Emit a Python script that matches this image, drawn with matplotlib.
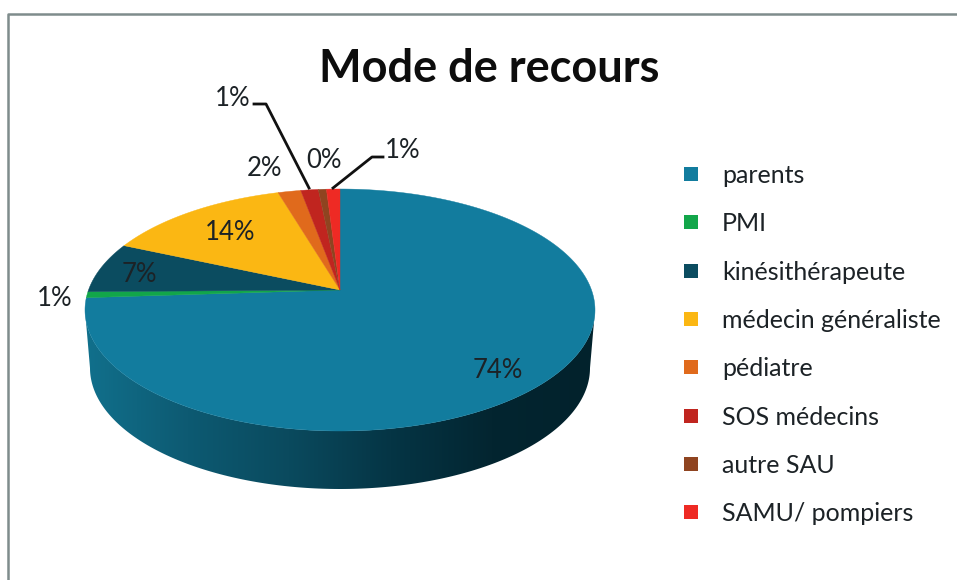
import numpy as np
import matplotlib
matplotlib.use('Agg')
import matplotlib.pyplot as plt
from matplotlib.colors import LinearSegmentedColormap

plt.rcParams['font.family'] = ['Lato', 'DejaVu Sans']

categories = ['parents', 'PMI', 'kinésithérapeute', 'médecin généraliste',
              'pédiatre', 'SOS médecins', 'autre SAU', 'SAMU/ pompiers']
shares = [73.9, 0.8, 6.8, 13.8, 1.7, 1.3, 0.6, 1.0]
share_labels = ['74%', '1%', '7%', '14%', '2%', '1%', '0%', '1%']
colors = ['#127c9e', '#12a64a', '#0b4c60', '#fbb713',
          '#e06a1c', '#c0251f', '#8f4420', '#ee2a24']
side_colors = ['#11708c', '#0d5a72', '#0a4a5e', '#053545', '#032530', '#02222c']

# label centres and leader lines, in pixels
label_pos = [(498, 370), (55, 299), (139, 274), (230, 232),
             (264, 168), (233, 98), (324, 161), (403, 151)]
leaders = {5: [(254, 104), (266, 104), (309, 188)],
           7: [(333, 188), (372, 157), (383, 157)]}

# pie geometry
cx, cy = 340, 310
rx, ry = 255, 121
apex_y = 290
depth = 58
a = (cy - apex_y) / ry


def to_screen(angle):
    # circle seen in perspective: the centre lands above the ellipse centre
    x, y = np.sin(angle), np.cos(angle)
    d = 1 + a * y
    return cx + rx * x * np.sqrt(1 - a**2) / d, cy - ry * (y + a) / d


fig = plt.figure(figsize=(9.57, 5.8), dpi=100)
ax = fig.add_axes([0, 0, 1, 1])

# side wall with its gradient
cmap = LinearSegmentedColormap.from_list('side', side_colors)
grad = np.linspace(0, 1, 256).reshape(1, -1)
img = ax.imshow(grad, cmap=cmap, extent=[85, 595, 490, 300], aspect='auto', zorder=1)
t = np.linspace(np.pi, 0, 200)
top_x, top_y = cx + rx * np.cos(t), cy + ry * np.sin(t)
bot_x, bot_y = cx + (rx - 5) * np.cos(t[::-1]), cy + depth + ry * np.sin(t[::-1])
clip = plt.Polygon(np.column_stack([np.r_[top_x, bot_x], np.r_[top_y, bot_y]]),
                   transform=ax.transData, fill=False, edgecolor='none')
ax.add_patch(clip)
img.set_clip_path(clip)

# top face, clockwise from 12 o'clock
edges = np.cumsum([0] + shares) / sum(shares) * 2 * np.pi
for i in range(len(shares)):
    ang = np.linspace(edges[i], edges[i + 1], 300)
    xs, ys = to_screen(ang)
    ax.fill(np.r_[cx, xs], np.r_[apex_y, ys], color=colors[i], lw=0.3, zorder=2)

for i, lab in enumerate(share_labels):
    ax.text(label_pos[i][0], label_pos[i][1], lab, fontsize=18.5, color='#1c2226',
            ha='center', va='center', zorder=4)
for pts in leaders.values():
    ax.plot(*zip(*pts), color='#111111', lw=2, zorder=3)

ax.text(489, 69, 'Mode de recours', fontsize=32.5, fontweight='bold', color='#0d0d0d',
        ha='center', va='center')

# legend
legend_y = [174, 222, 271, 319, 367, 416, 464, 512]
for y, name, c in zip(legend_y, categories, colors):
    ax.plot([691], [y], marker='s', ms=10.5, color=c, mew=0)
    ax.text(722, y + 1.5, name, fontsize=18, color='#1c2226', va='center', ha='left')

# frame, only top and left are visible
ax.plot([8, 8, 957], [580, 13.5, 13.5], color='#7f8c8c', lw=1.8)

ax.set_xlim(0, 957)
ax.set_ylim(580, 0)
ax.axis('off')
fig.savefig('out.png', dpi=100)
